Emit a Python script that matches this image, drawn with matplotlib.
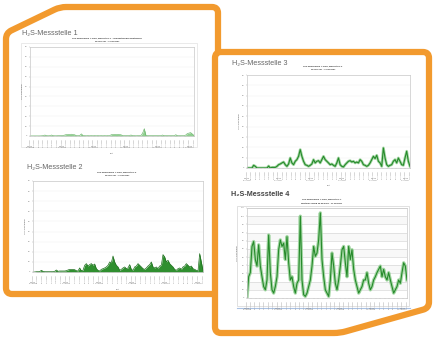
import numpy as np
import pandas as pd
import matplotlib
matplotlib.use('Agg')
from matplotlib import pyplot as plt
from matplotlib.patches import Rectangle, PathPatch
from matplotlib.path import Path

plt.rcParams['font.family'] = ['Liberation Sans', 'DejaVu Sans']

W, H = 434, 342
ORANGE = '#F29A2E'

# ---- data (ppm) ----
titles = ['H₂S-Messstelle 1', 'H₂S-Messstelle 2', 'H₂S-Messstelle 3', 'H₂S-Messstelle 4']
subtitles = [('H₂S Messungen A-Dorf, Messstelle 1 - Grundstueckseigentuemer', '06.08.2007 - 11.09.2007'),
             ('H₂S Messungen A-Dorf, Messstelle 2', '06.08.2007 - 11.09.2007'),
             ('H₂S Messungen A-Dorf, Messstelle 3', '06.08.2007 - 11.09.2007'),
             ('H₂S Messungen A-Dorf, Messstelle 4', 'Wartemessung 06.08.2007 - 11.09.2007')]

ms1 = [0.1, 0.1, 0.1, 0.1, 0.1, 0.1, 0.1, 0.2, 0.3, 1.0, 0.3, 0.2, 0.3, 1.0, 0.3, 0.2, 0.2, 0.3,
       0.4, 0.5, 0.6, 1.0, 1.5, 1.7, 1.6, 1.8, 1.5, 1.2, 0.4, 0.3, 0.5, 2.2, 0.4, 0.3, 0.2, 0.3,
       0.2, 0.3, 0.2, 0.3, 0.2, 0.3, 0.2, 0.3, 0.2, 0.3, 0.2, 0.3, 0.2, 1.3, 1.6, 1.7, 1.6, 1.7,
       1.5, 1.2, 0.4, 0.3, 0.3, 0.4, 0.6, 1.0, 0.4, 0.3, 0.2, 0.3, 0.3, 0.5, 3.0, 7.4, 0.5, 0.3,
       0.3, 0.3, 0.3, 0.3, 0.3, 0.3, 0.3, 0.3, 1.0, 0.3, 0.3, 0.3, 0.3, 0.3, 0.3, 0.3, 1.3, 0.4,
       0.3, 0.3, 0.3, 0.3, 1.0, 2.5, 3.0, 3.4, 2.0, 0.5]

ms2 = [0, 0, 0.3, 0.3, 0.3, 1.7, 0.7, 0.3, 0.3, 0.3, 0.3, 0.3, 0.3, 0.7, 2, 0.7, 1, 1, 1, 1,
       1.3, 2, 2.6, 2.6, 2.6, 2.3, 1.3, 1, 4, 1.3, 1.7, 6.6, 8.3, 5.9, 7.3, 8.3, 6.6, 7.9, 3.3,
       1.7, 1, 2.6, 3.3, 4, 5, 6.6, 9.9, 9.2, 15.8, 9.9, 6.6, 5, 1.7, 2.6, 4, 5, 3.3, 4, 7.3,
       2.6, 1.7, 5, 5.9, 8.3, 6.6, 5, 3.3, 2.6, 4, 5.9, 7.3, 9.9, 5, 4, 5, 3.3, 5.9, 6.6, 17.2,
       14.9, 9.9, 11.6, 8.3, 6.6, 5, 2.6, 1.7, 3.3, 4, 2.6, 5, 5.9, 8.3, 6.6, 5, 5.9, 3.3, 2.6,
       1.7, 1, 18.2, 9.9, 1.7]

ms3 = [0, 0, 0, 0, 2.6, 1.6, 0, 0, 0, 0, 0, 0, 0, 1.9, 0, 0.6, 0.6, 0.6, 1.6, 3.2, 3.9, 4.9,
       5.8, 3.2, 1.6, 3.9, 9.7, 4.9, 3.2, 6.5, 8.1, 11.3, 17.8, 11.3, 6.5, 3.2, 2.6, 1.6, 2.6,
       3.9, 8.1, 4.9, 6.5, 7.1, 4.9, 8.1, 11.3, 8.1, 6.5, 4.9, 3.2, 3.9, 2.6, 1.6, 4.9, 9.7, 3.2,
       1.6, 1, 3.2, 4.9, 6.5, 7.1, 5.8, 6.5, 4.9, 5.8, 4.9, 8.1, 6.5, 3.2, 2.6, 1.6, 2.6, 4.9,
       8.1, 11.3, 9.1, 12.3, 6.5, 4.9, 1.6, 19.4, 9.7, 3.2, 1.6, 2.6, 3.2, 6.5, 8.1, 4.9, 9.7,
       6.5, 3.2, 2.6, 9.7, 16.2, 6.5, 1.6]

ms4 = [0, 26, 31, 63, 69, 47, 39, 65, 39, 26, 14, 10, 22, 77, 31, 10, 6, 14, 26, 59, 71, 63,
       67, 47, 75, 43, 22, 26, 14, 6, 18, 22, 100, 22, 4, 2, 6, 14, 22, 39, 63, 51, 55, 71, 104,
       47, 26, 10, 6, 2, 22, 55, 39, 18, 10, 22, 39, 59, 63, 43, 26, 63, 47, 59, 35, 22, 14, 6,
       10, 14, 22, 22, 31, 18, 10, 14, 22, 26, 31, 35, 39, 26, 35, 26, 22, 31, 22, 14, 6, 10, 14,
       22, 18, 31, 43, 39, 22]

days = [d.strftime('%d.%m.%Y') for d in pd.date_range('2007-08-06', '2007-09-11')]
weeks = ['Montag\n06.08.2007', 'Montag\n13.08.2007', 'Montag\n20.08.2007',
         'Montag\n27.08.2007', 'Montag\n03.09.2007', 'Montag\n10.09.2007']


def box(x0, y0, x1, y1):
    return [x0 / W, 1 - y1 / H, (x1 - x0) / W, (y1 - y0) / H]


def rounded(pts, r):
    # closed outline with softened corners
    verts, codes = [], []
    n = len(pts)
    for k in range(n):
        p0, p1, p2 = np.array(pts[k - 1], float), np.array(pts[k], float), np.array(pts[(k + 1) % n], float)
        a = p1 + (p0 - p1) / np.linalg.norm(p0 - p1) * r
        b = p1 + (p2 - p1) / np.linalg.norm(p2 - p1) * r
        verts.append(a)
        codes.append(Path.MOVETO if k == 0 else Path.LINETO)
        verts += [p1, b]
        codes += [Path.CURVE3, Path.CURVE3]
    verts.append(verts[0])
    codes.append(Path.CLOSEPOLY)
    return Path(verts, codes)


fig = plt.figure(figsize=(W / 100, H / 100), dpi=100)
fig.patch.set_facecolor('white')
bg = fig.add_axes([0, 0, 1, 1])
bg.set_xlim(0, W)
bg.set_ylim(H, 0)
bg.axis('off')

# the two pages
page1 = rounded([(60, 7), (218, 7), (218, 294), (6, 294), (6, 33)], 6)
page2 = rounded([(215, 52), (429, 52), (429, 308), (340, 333), (215, 333)], 6)
bg.add_patch(PathPatch(page1, fc='white', ec=ORANGE, lw=4.5, joinstyle='round'))
bg.add_patch(PathPatch(page2, fc='white', ec=ORANGE, lw=4.5, joinstyle='round'))

# frames around charts 1 and 4
bg.add_patch(Rectangle((21, 43), 176, 104, fc='none', ec='#e2e2e2', lw=0.5))
bg.add_patch(Rectangle((237, 206), 172, 100, fc='none', ec='#d5d5d5', lw=0.5))
bg.plot([237, 410], [307.5, 307.5], color='#a9c1e3', lw=0.8)

axes_px = [(30, 47, 194, 136), (33, 181, 203, 272), (247, 75, 410, 168), (247, 208, 407, 298)]
title_px = [(22, 33), (27, 167), (232, 64), (231, 195)]
sub_x = [107, 117, 323, 322]
series = [ms1, ms2, ms3, ms4]
ymax = [90, 90, 90, 110]
ystep = [10, 10, 10, 10]

for i in range(4):
    x0, y0, x1, y1 = axes_px[i]
    tx, ty = title_px[i]
    bg.text(tx, ty, titles[i], fontsize=5.2, color='#444' if i == 3 else '#666',
            fontweight='bold' if i == 3 else 'normal', va='center', ha='left')
    bg.text(sub_x[i], y0 - 8.5, subtitles[i][0], fontsize=1.6, color='#333',
            fontweight='bold', ha='center', va='center')
    bg.text(sub_x[i], y0 - 5, subtitles[i][1], fontsize=1.6, color='#333',
            fontweight='bold', ha='center', va='center')

    ax = fig.add_axes(box(x0, y0, x1, y1))
    vals = np.array(series[i], dtype=float)
    xs = np.arange(len(vals))
    ax.set_xlim(0, len(vals) - 1)
    ax.set_ylim(0, ymax[i])
    ax.set_facecolor('white')

    if i == 3:
        for k in range(0, ymax[i], 2 * ystep[i]):
            ax.axhspan(k + ystep[i], k + 2 * ystep[i], color='#f8f8f8', lw=0, zorder=0)
        ax.grid(axis='y', color='#cfcfcf', lw=0.4)
    else:
        ax.grid(axis='y', color='#eeeeee', lw=0.3)
    ax.set_axisbelow(True)

    if i == 0:
        ax.fill_between(xs, vals, color='#8fcf8f', lw=0)
        ax.plot(xs, vals, color='#5fae5f', lw=0.4)
    elif i == 1:
        ax.fill_between(xs, vals, color='#2f8f2f', lw=0)
        ax.plot(xs, vals, color='#1c6e1c', lw=0.5)
    else:
        ax.plot(xs, vals, color='#a3d6a3', lw=2.4 if i == 3 else 2.0)
        ax.plot(xs, vals, color='#268a2b', lw=0.8)

    ax.set_yticks(np.arange(0, ymax[i] + 1, ystep[i]))
    ax.tick_params(axis='y', labelsize=1.6, labelcolor='#777', length=1, width=0.3, color='#aaa', pad=1)
    ticks = np.linspace(0, len(vals) - 1, len(days))
    ax.set_xticks(ticks)
    ax.set_xticklabels(days, rotation=90, fontsize=1.3, color='#888')
    ax.tick_params(axis='x', length=1, width=0.3, color='#aaa', pad=0.5)
    for s in ax.spines.values():
        s.set_color('#c8c8c8')
        s.set_linewidth(0.5)

    for j, w in enumerate(weeks):
        ax.text(ticks[j * 7], -0.11, w, transform=ax.get_xaxis_transform(), fontsize=1.4,
                color='#888', ha='center', va='top')
    if i != 3:
        ax.set_xlabel('Zeit', fontsize=1.6, color='#555', labelpad=4)
    ax.set_ylabel('H₂S-Wert [ppm]', fontsize=1.6, color='#555', labelpad=1.5)

fig.savefig('out.png', dpi=100, facecolor='white')
